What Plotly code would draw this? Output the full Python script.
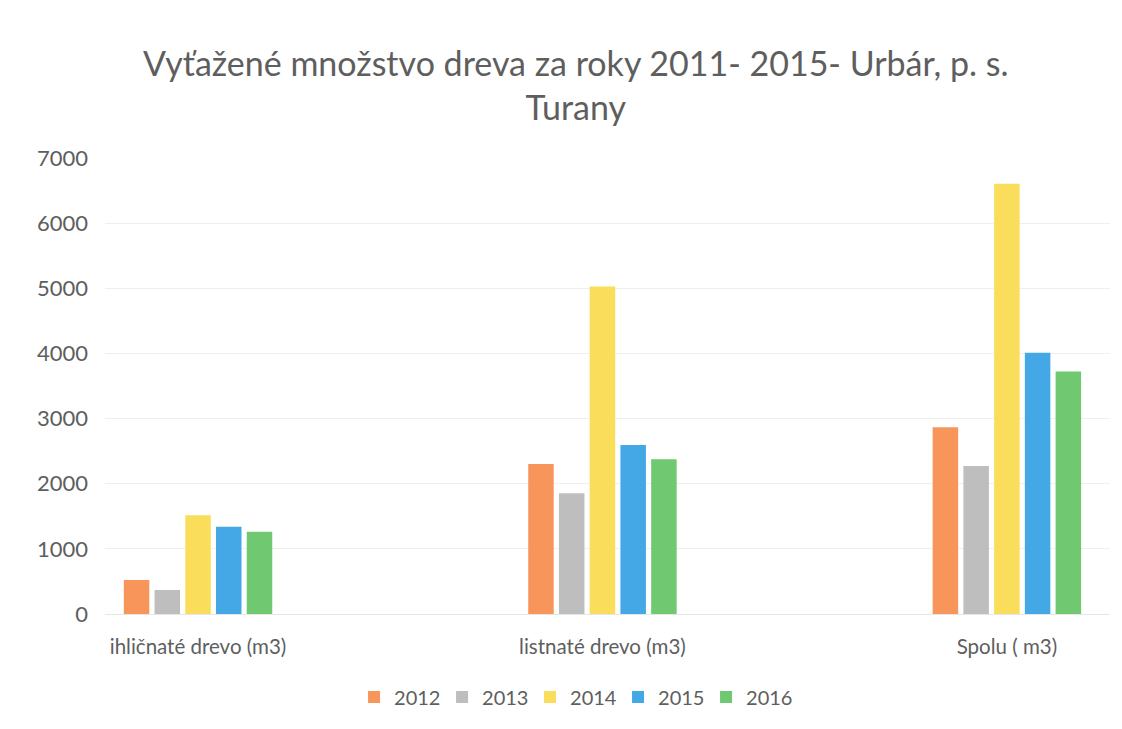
import plotly.graph_objects as go

categories = ["ihličnaté drevo (m3)", "listnaté drevo (m3)", "Spolu ( m3)"]
years = ["2012", "2013", "2014", "2015", "2016"]
values_2012 = [522, 2304, 2868]
values_2013 = [369, 1854, 2273]
values_2014 = [1516, 5028, 6605]
values_2015 = [1341, 2596, 4009]
values_2016 = [1264, 2376, 3722]
series = [values_2012, values_2013, values_2014, values_2015, values_2016]
colors = ["#F8955A", "#BEBEBE", "#FBDD5C", "#45A8E6", "#70C970"]

fig = go.Figure()
for yr, vals, col in zip(years, series, colors):
    fig.add_trace(go.Bar(name=yr, x=categories, y=vals, marker=dict(color=col, line=dict(width=0))))

txt = "#5e5e5e"
fig.update_layout(
    width=1122, height=729,
    paper_bgcolor="white", plot_bgcolor="white",
    font=dict(family="Lato, Carlito, sans-serif", color=txt, size=20),
    title=dict(text="Vyťažené množstvo dreva za roky 2011- 2015- Urbár, p. s.<br>Turany",
               xref="container", x=0.506, xanchor="center",
               yref="container", y=1 - 68/729, yanchor="top",
               font=dict(size=34, color=txt)),
    margin=dict(l=97, r=20, t=150, b=123),
    barmode="group", bargap=0.62, bargroupgap=0.17,
    showlegend=True,
    legend=dict(orientation="h", xref="container", x=0.5045, xanchor="center",
                yref="container", y=1 - 689/729, yanchor="middle",
                font=dict(size=20, color=txt), itemwidth=30, traceorder="normal",
                entrywidth=43, entrywidthmode="pixels"),
    xaxis=dict(range=[-0.23, 2.255], showgrid=False, showline=True, linecolor="#e6e6e6",
               ticks="", tickfont=dict(size=20.5, color=txt), ticklabelstandoff=14,
               automargin=False),
    yaxis=dict(range=[0, 7000], dtick=1000, showgrid=True, gridcolor="#efefef",
               zeroline=False, showline=False, tickfont=dict(size=22, color=txt),
               ticklabelstandoff=16, automargin=False),
)

fig.write_html("out.html")
